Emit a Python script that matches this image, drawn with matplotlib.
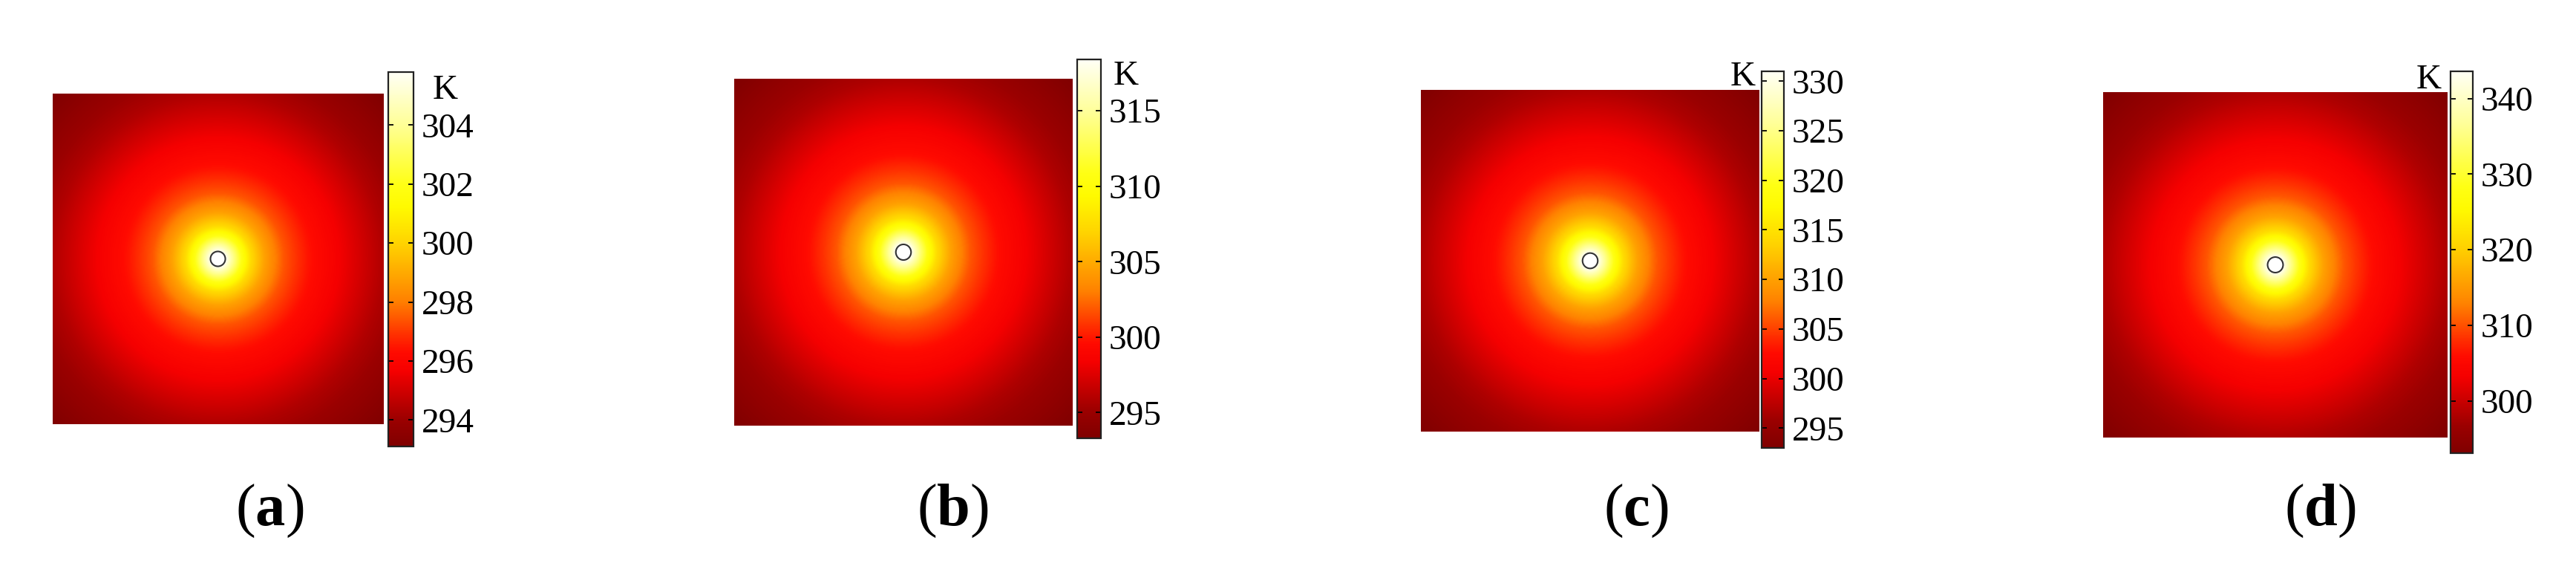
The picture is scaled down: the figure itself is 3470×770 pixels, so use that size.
import numpy as np
import matplotlib
matplotlib.use('Agg')
import matplotlib.pyplot as plt
from matplotlib.colors import LinearSegmentedColormap
from matplotlib.patches import Circle

plt.rcParams['font.family'] = 'Liberation Serif'
plt.rcParams['mathtext.fontset'] = 'custom'
plt.rcParams['mathtext.rm'] = 'Liberation Serif'
plt.rcParams['mathtext.bf'] = 'Liberation Serif:bold'

# distancia ao centro do furo (em meias-larguras do dominio)
raio = [0.045, 0.08, 0.14, 0.2, 0.28, 0.4, 0.55, 0.7, 1.0, 1.42]

# temperatura (K) lida em cada raio, por painel
temp_a = [305.8, 304.3, 302.0, 300.2, 298.8, 297.4, 296.4, 295.8, 294.4, 293.1]
temp_b = [318.4, 315.4, 310.9, 307.4, 304.6, 301.8, 299.8, 298.6, 295.8, 293.3]
temp_c = [331.0, 326.4, 319.6, 314.3, 310.1, 305.9, 302.9, 301.0, 296.8, 293.0]
temp_d = [343.6, 337.5, 328.5, 321.4, 315.8, 310.3, 306.2, 303.7, 298.2, 293.1]

# limites das barras de cor e marcas
lim_a = (293.1, 305.8)
lim_b = (293.3, 318.4)
lim_c = (293.0, 331.0)
lim_d = (293.1, 343.6)
ticks_a = [294, 296, 298, 300, 302, 304]
ticks_b = [295, 300, 305, 310, 315]
ticks_c = [295, 300, 305, 310, 315, 320, 325, 330]
ticks_d = [300, 310, 320, 330, 340]
rotulos = ['a', 'b', 'c', 'd']
unidade = 'K'

W, H = 3470, 770
fig = plt.figure(figsize=(W / 100, H / 100), dpi=100)

# caixas em pixels (x0, y0, x1, y1) medidas a partir do topo
caixa_img = [(71, 126, 516, 571), (989, 106, 1445, 573),
             (1914, 121, 2370, 581), (2833, 124, 3297, 589)]
caixa_bar = [(523, 97, 557, 601), (1451, 80, 1483, 590),
             (2373, 96, 2403, 603), (3301, 96, 3331, 610)]
pos_k = [(600, 133), (1517, 114), (2348, 115), (3272, 119)]
pos_rotulo = [363, 1283, 2204, 3125]


def eixo(c):
    x0, y0, x1, y1 = c
    return fig.add_axes([x0 / W, (H - y1) / H, (x1 - x0) / W, (y1 - y0) / H])


# escala de cores tipo "ThermalLight"
nos = [0.0, 0.07, 0.20, 0.25, 0.30, 0.39, 0.54, 0.64, 0.70, 0.86, 1.0]
cores = ['#800000', '#9b0000', '#f50000', '#ff0a00', '#ff3200', '#ff8200',
         '#ffd200', '#fffa00', '#ffff14', '#ffff96', '#fffff5']
cmap = LinearSegmentedColormap.from_list('termico', list(zip(nos, cores)))

n = 500
xs = np.linspace(-1, 1, n)
X, Y = np.meshgrid(xs, xs)
R = np.sqrt(X ** 2 + Y ** 2)

temps = [temp_a, temp_b, temp_c, temp_d]
lims = [lim_a, lim_b, lim_c, lim_d]
ticks = [ticks_a, ticks_b, ticks_c, ticks_d]

for i in range(4):
    ax = eixo(caixa_img[i])
    campo = np.interp(R, raio, temps[i])
    im = ax.imshow(campo, cmap=cmap, vmin=lims[i][0], vmax=lims[i][1],
                   extent=[-1, 1, -1, 1], aspect='auto', interpolation='bilinear')
    ax.add_patch(Circle((0, 0), 0.045, facecolor='white', edgecolor='#333333', lw=1.5, zorder=3))
    ax.set_axis_off()

    cax = eixo(caixa_bar[i])
    cb = fig.colorbar(im, cax=cax)
    cb.set_ticks(ticks[i])
    cb.outline.set_linewidth(1.6)
    cb.outline.set_edgecolor('#222222')
    cax.tick_params(direction='in', length=5, width=1.3, left=True, right=True,
                    labelsize=34, pad=8, colors='black')

    kx, ky = pos_k[i]
    fig.text(kx / W, (H - ky) / H, unidade, fontsize=34, ha='center', va='baseline')

    fig.text(pos_rotulo[i] / W, (H - 688) / H, r'($\mathbf{' + rotulos[i] + r'}$)',
             fontsize=58, ha='center', va='center')

fig.savefig('out.png', dpi=100, facecolor='white')
